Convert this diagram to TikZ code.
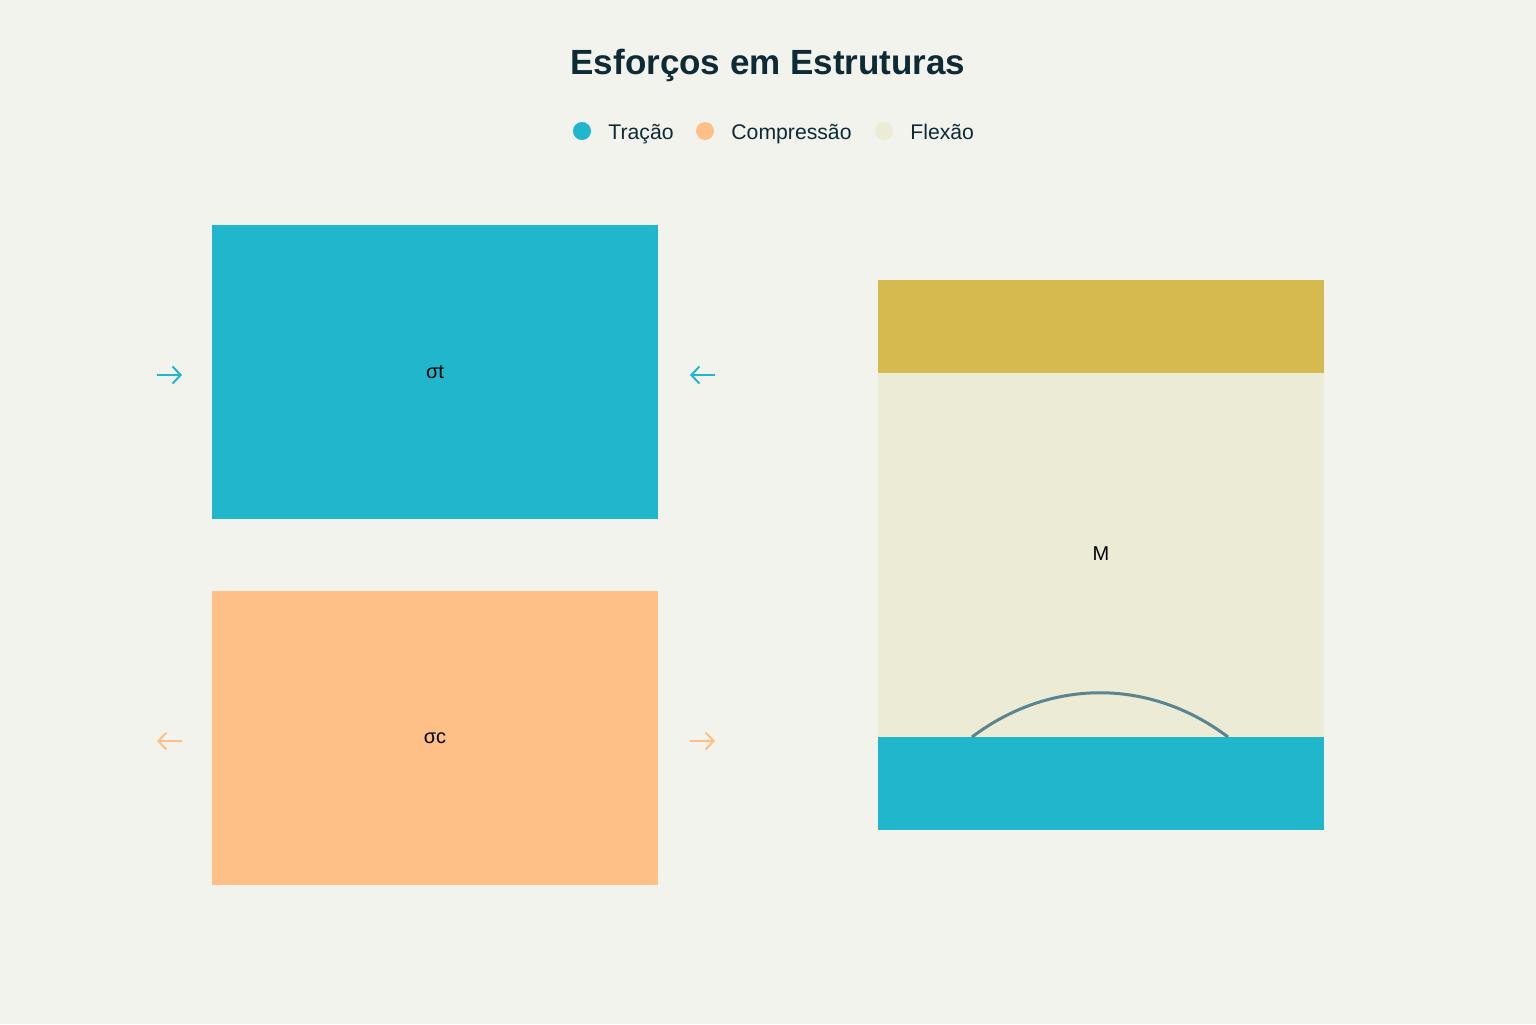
\documentclass[tikz,border=0pt]{standalone}
\usepackage{fontspec}
\setmainfont{Liberation Sans}
\usetikzlibrary{arrows.meta}
\definecolor{bg}{HTML}{F3F3EE}
\definecolor{tblue}{HTML}{20B7CD}
\definecolor{corange}{HTML}{FFC087}
\definecolor{fbeige}{HTML}{ECEBD6}
\definecolor{fgold}{HTML}{D4BA4F}
\definecolor{ink}{HTML}{0D2A35}
\definecolor{curve}{HTML}{5A8590}
\tikzset{
  lbl/.style={font=\fontsize{10}{12}\selectfont, text=black},
  legtxt/.style={font=\fontsize{10.6}{12}\selectfont, text=ink, anchor=base west, inner sep=0pt},
  legdot/.style={circle, minimum size=9pt, inner sep=0pt},
  force/.style={line width=1pt, -{Straight Barb[length=4pt,width=8.5pt,line width=1pt]}},
}
\begin{document}
\begin{tikzpicture}[x=0.5pt,y=-0.5pt]
\fill[bg] (0,0) rectangle (1536,1024);
\useasboundingbox (0,0) rectangle (1536,1024);
% title
\node[font=\bfseries\fontsize{17.5}{20}\selectfont, text=ink] (title) at (768,65) {Esforços em Estruturas};
% legend
\node[legdot, fill=tblue] (d1) at (582,131) {};
\node[legtxt] (l1) at (608,139) {Tração};
\node[legdot, fill=corange] (d2) at (705,131) {};
\node[legtxt] (l2) at (731,139) {Compressão};
\node[legdot, fill=fbeige] (d3) at (884,131) {};
\node[legtxt] (l3) at (910,139) {Flexão};
% tension block
\fill[tblue] (212,225) rectangle (658,519);
\node[lbl] (st) at (435,372) {σt};
% compression block
\fill[corange] (212,591) rectangle (658,885);
\node[lbl] (sc) at (435,738) {σc};
% bending beam
\fill[fgold] (878,280) rectangle (1324,374);
\fill[fbeige] (878,373) rectangle (1324,738);
\fill[tblue] (878,737) rectangle (1324,830);
\node[lbl] (m) at (1101,554) {M};
\coordinate (ca) at (972,737);
\coordinate (cb) at (1228,737);
\draw[curve, line width=1.5pt] (ca) .. controls (1050,678) and (1150,678) .. (cb);
% force arrows
\coordinate (a1s) at (157,375); \coordinate (a1e) at (182,375);
\coordinate (a2s) at (715,375); \coordinate (a2e) at (690,375);
\coordinate (a3s) at (182,741); \coordinate (a3e) at (157,741);
\coordinate (a4s) at (690,741); \coordinate (a4e) at (715,741);
\draw[force, tblue] (a1s) -- (a1e);
\draw[force, tblue] (a2s) -- (a2e);
\draw[force, corange] (a3s) -- (a3e);
\draw[force, corange] (a4s) -- (a4e);
\end{tikzpicture}
\end{document}
